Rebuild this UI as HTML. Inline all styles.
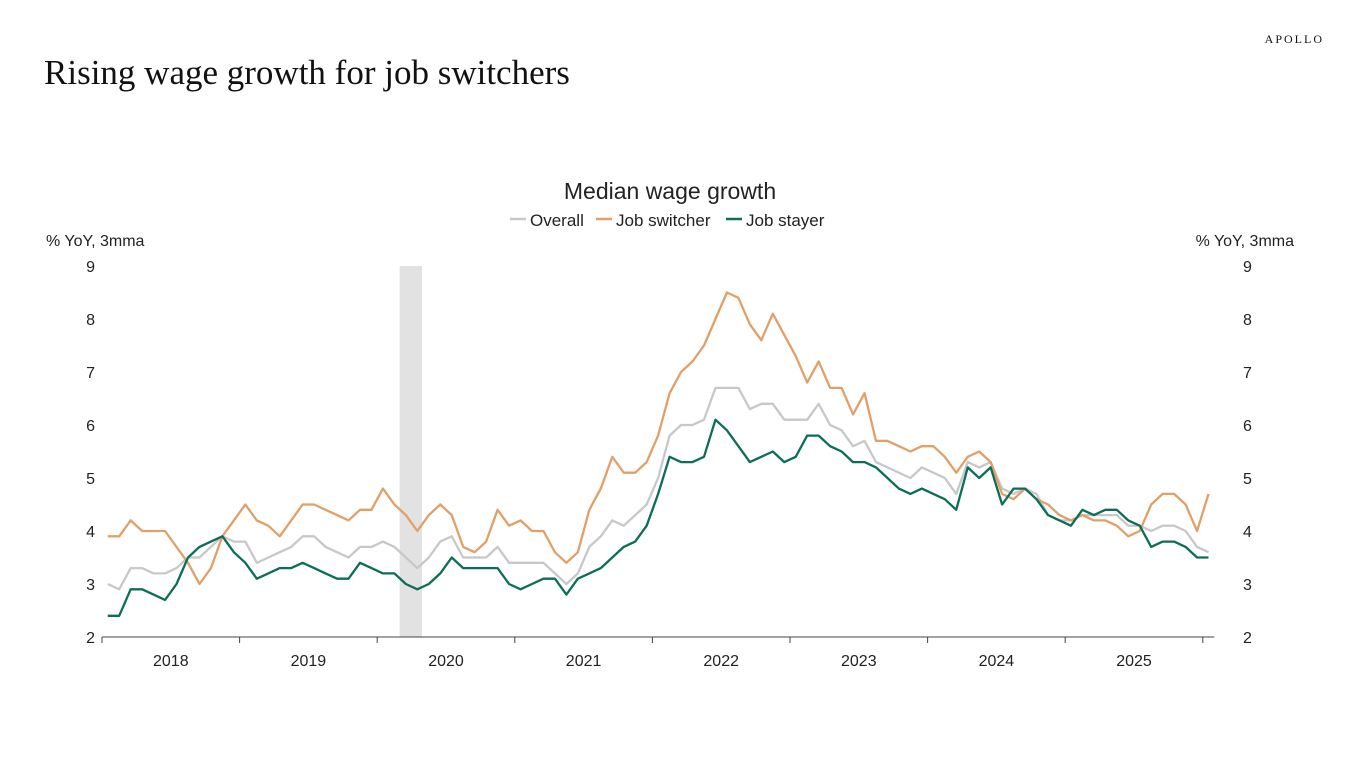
<!DOCTYPE html>
<html><head><meta charset="utf-8"><style>
body{margin:0;width:1366px;height:768px;background:#fff;overflow:hidden;font-family:"Liberation Sans","DejaVu Sans",sans-serif}
svg text{font-family:"Liberation Sans","DejaVu Sans",sans-serif;fill:#222}
</style></head><body>
<svg width="1366" height="768">
<text x="44" y="84" style="font-family:'Liberation Serif',serif;font-size:35px;fill:#111">Rising wage growth for job switchers</text>
<text x="1324" y="43" text-anchor="end" style="font-family:'Liberation Serif',serif;font-size:12px;letter-spacing:2px;fill:#111">APOLLO</text>
<text x="670" y="199" text-anchor="middle" font-size="23">Median wage growth</text>
<g id="legend"></g>
<text x="46" y="246" font-size="16">% YoY, 3mma</text>
<text x="1294" y="246" font-size="16" text-anchor="end">% YoY, 3mma</text>
<g id="plot"></g>
</svg>
<script>
const years=["2018","2019","2020","2021","2022","2023","2024","2025"];
const yTicks=[2,3,4,5,6,7,8,9];
const overall=[3.0,2.9,3.3,3.3,3.2,3.2,3.3,3.5,3.5,3.7,3.9,3.8,3.8,3.4,3.5,3.6,3.7,3.9,3.9,3.7,3.6,3.5,3.7,3.7,3.8,3.7,3.5,3.3,3.5,3.8,3.9,3.5,3.5,3.5,3.7,3.4,3.4,3.4,3.4,3.2,3.0,3.2,3.7,3.9,4.2,4.1,4.3,4.5,5.0,5.8,6.0,6.0,6.1,6.7,6.7,6.7,6.3,6.4,6.4,6.1,6.1,6.1,6.4,6.0,5.9,5.6,5.7,5.3,5.2,5.1,5.0,5.2,5.1,5.0,4.7,5.3,5.2,5.3,4.8,4.7,4.8,4.7,4.3,4.2,4.2,4.3,4.3,4.3,4.3,4.1,4.1,4.0,4.1,4.1,4.0,3.7,3.6];
const switcher=[3.9,3.9,4.2,4.0,4.0,4.0,3.7,3.4,3.0,3.3,3.9,4.2,4.5,4.2,4.1,3.9,4.2,4.5,4.5,4.4,4.3,4.2,4.4,4.4,4.8,4.5,4.3,4.0,4.3,4.5,4.3,3.7,3.6,3.8,4.4,4.1,4.2,4.0,4.0,3.6,3.4,3.6,4.4,4.8,5.4,5.1,5.1,5.3,5.8,6.6,7.0,7.2,7.5,8.0,8.5,8.4,7.9,7.6,8.1,7.7,7.3,6.8,7.2,6.7,6.7,6.2,6.6,5.7,5.7,5.6,5.5,5.6,5.6,5.4,5.1,5.4,5.5,5.3,4.7,4.6,4.8,4.6,4.5,4.3,4.2,4.3,4.2,4.2,4.1,3.9,4.0,4.5,4.7,4.7,4.5,4.0,4.7];
const stayer=[2.4,2.4,2.9,2.9,2.8,2.7,3.0,3.5,3.7,3.8,3.9,3.6,3.4,3.1,3.2,3.3,3.3,3.4,3.3,3.2,3.1,3.1,3.4,3.3,3.2,3.2,3.0,2.9,3.0,3.2,3.5,3.3,3.3,3.3,3.3,3.0,2.9,3.0,3.1,3.1,2.8,3.1,3.2,3.3,3.5,3.7,3.8,4.1,4.7,5.4,5.3,5.3,5.4,6.1,5.9,5.6,5.3,5.4,5.5,5.3,5.4,5.8,5.8,5.6,5.5,5.3,5.3,5.2,5.0,4.8,4.7,4.8,4.7,4.6,4.4,5.2,5.0,5.2,4.5,4.8,4.8,4.6,4.3,4.2,4.1,4.4,4.3,4.4,4.4,4.2,4.1,3.7,3.8,3.8,3.7,3.5,3.5];
const recession=[26,28]; // month index range (Feb-Apr 2020)
const NS="http://www.w3.org/2000/svg";
const X0=102,MW=137.6/12,Y0=637,YU=53;
const xm=i=>X0+MW*(i+0.5);
const xe=i=>X0+MW*i;
const y=v=>Y0-(v-2)*YU;
const plot=document.getElementById('plot');
function mk(t,a,p){const e=document.createElementNS(NS,t);for(const k in a)e.setAttribute(k,a[k]);(p||plot).appendChild(e);return e;}
const rec=mk('rect',{x:xe(recession[0])-0.5,y:y(9),width:xe(recession[1]+1)-xe(recession[0])-12,height:Y0-y(9),fill:'#e2e2e2'});


yTicks.forEach(v=>{
 const l=mk('text',{x:95,y:y(v)+6,'text-anchor':'end','font-size':16});l.textContent=v;
 
 
 const r=mk('text',{x:1243,y:y(v)+6,'font-size':16});r.textContent=v;
 
 
});
const ax=mk('line',{x1:X0,x2:xe(97),y1:Y0,y2:Y0,stroke:'#444','stroke-width':1});


for(let k=0;k<=8;k++){const t=mk('line',{x1:xe(k*12),x2:xe(k*12),y1:Y0,y2:Y0+6,stroke:'#444'});
 
 }
years.forEach((yr,k)=>{const t=mk('text',{x:xe(k*12+6),y:666,'text-anchor':'middle','font-size':16});t.textContent=yr;
 
 });
function line(d,c,n){const p=mk('polyline',{points:d.map((v,i)=>xm(i)+','+y(v)).join(' '),fill:'none',stroke:c,'stroke-width':2.3,'stroke-linejoin':'round'});
 
 }
line(overall,'#c8c8c8','overall-line');
line(switcher,'#e0a06a','job-switcher-line');
line(stayer,'#0d6e57','job-stayer-line');
const lg=document.getElementById('legend');
[['Overall','#c8c8c8',510],['Job switcher','#e0a06a',596],['Job stayer','#0d6e57',726]].forEach(([n,c,x])=>{
 const g=mk('g',{},lg);
 
 
 mk('line',{x1:x,x2:x+16,y1:219,y2:219,stroke:c,'stroke-width':2.5},g);
 const t=mk('text',{x:x+20,y:226,'font-size':17},g);t.textContent=n;
});
</script>
</body></html>
